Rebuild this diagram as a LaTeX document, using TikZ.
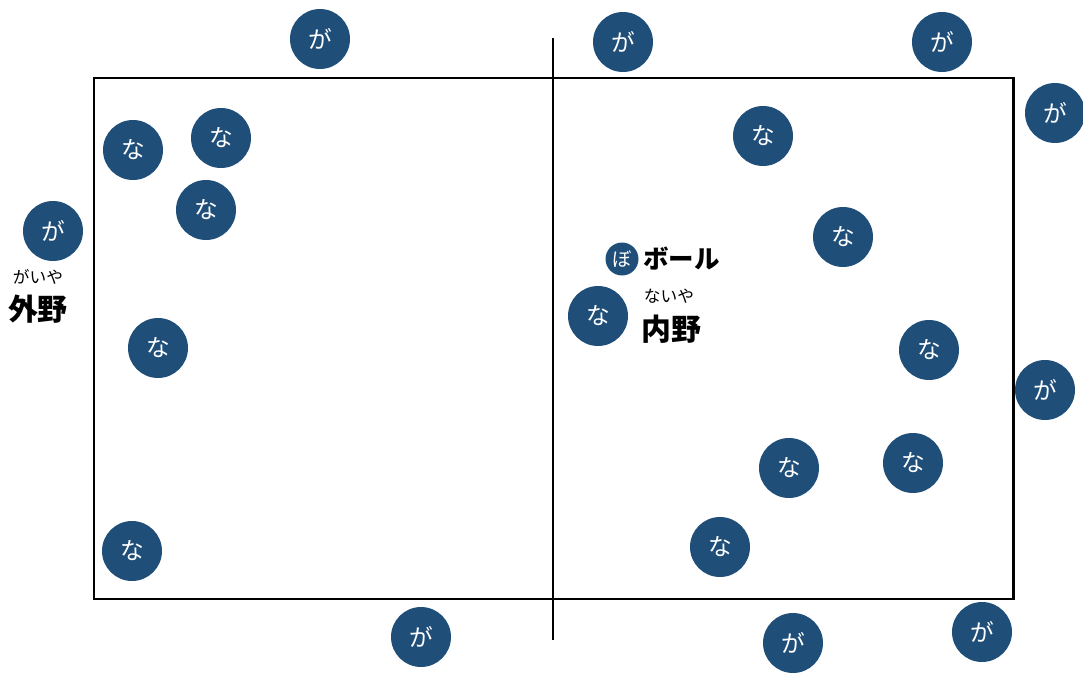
\documentclass[tikz,border=0pt]{standalone}
\usepackage{fontspec}
\newfontfamily\jp{Noto Sans CJK JP}
\usepackage{tikz}
\usetikzlibrary{positioning}
\usepackage{xcolor}
\definecolor{playerblue}{HTML}{1F4E79}

\begin{document}
\begin{tikzpicture}[x=0.02cm,y=-0.02cm,
    player/.style={circle, fill=playerblue, minimum size=1.2cm, inner sep=0pt,
      text=white, font=\jp\fontsize{13.5}{13.5}\selectfont},
    ballmark/.style={circle, fill=playerblue, minimum size=0.66cm, inner sep=0pt,
      text=white, font=\jp\fontsize{11}{11}\selectfont},
    zonelabel/.style={font=\jp\bfseries\fontsize{17}{17}\selectfont, inner sep=0pt},
    rubytext/.style={font=\jp\fontsize{9.5}{9.5}\selectfont, inner sep=0pt}]
  \useasboundingbox (0,0) rectangle (1083,673);

  % court and centre line
  \draw[line width=1.7pt] (94,78) rectangle (1013,599);
  \coordinate (ctop) at (553,38);
  \coordinate (cbot) at (553,640);
  \draw[line width=1.7pt] (ctop) -- (cbot);

  % outfield players
  \foreach \x/\y [count=\i] in {320/39, 623/42, 942/42, 1055/113, 53/231,
      1045/390, 421/637, 793/643, 982/632}
    \node[player] (ga\i) at (\x,\y) {が};

  % infield players
  \foreach \x/\y [count=\i] in {133/150, 221/138, 206/210, 158/348, 132/551,
      763/136, 843/237, 929/350, 598/316, 789/468, 913/463, 720/547}
    \node[player] (na\i) at (\x,\y) {な};

  % ball
  \node[ballmark] (ball) at (622,259) {ぼ};
  \node[zonelabel, font=\jp\bfseries\fontsize{14.5}{14.5}\selectfont, right=0.08cm of ball] (balltext) {ボール};

  % zone labels
  \node[zonelabel] (outfield) at (38,309) {外野};
  \node[rubytext] (outruby) at (38,277) {がいや};
  \node[zonelabel, anchor=west] (infield) at (641,329) {内野};
  \node[rubytext] (inruby) at (669,296) {ないや};
\end{tikzpicture}
\end{document}
